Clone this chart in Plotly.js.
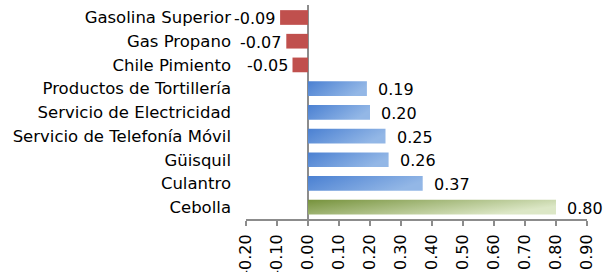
<!DOCTYPE html>
<html>
<head>
<meta charset="utf-8">
<script src="https://cdn.plot.ly/plotly-3.0.1.min.js"></script>
<style>
  html, body { margin: 0; padding: 0; background: #fff; }
  #chart { width: 607px; height: 272px; }
</style>
</head>
<body>
<div id="chart"></div>
<script>
// ---- data (top to bottom) ----
const categories = [
  "Gasolina Superior",
  "Gas Propano",
  "Chile Pimiento",
  "Productos de Tortillería",
  "Servicio de Electricidad",
  "Servicio de Telefonía Móvil",
  "Güisquil",
  "Culantro",
  "Cebolla"
];
const values = [-0.09, -0.07, -0.05, 0.19, 0.20, 0.25, 0.26, 0.37, 0.80];
const tickValues = [-0.2, -0.1, 0, 0.1, 0.2, 0.3, 0.4, 0.5, 0.6, 0.7, 0.8, 0.9];
const tickLabels = tickValues.map(v => v.toFixed(2));

// ---- styling ----
const FONT = "DejaVu Sans, Verdana, sans-serif";
const RED = "#C0504D", BLUE = "#6F9BD8", GREEN = "#A3B978";
const maxVal = Math.max(...values);
const kind = values.map(v => v < 0 ? "red" : (v === maxVal ? "green" : "blue"));
const colors = kind.map(k => k === "red" ? RED : (k === "green" ? GREEN : BLUE));

const trace = {
  type: "bar",
  orientation: "h",
  x: values,
  y: categories,
  marker: { color: colors, line: { width: 0 } },
  hoverinfo: "skip"
};

const annotations = values.map((v, i) => ({
  x: v,
  y: categories[i],
  xref: "x",
  yref: "y",
  text: v.toFixed(2),
  showarrow: false,
  xanchor: v < 0 ? "right" : "left",
  xshift: v < 0 ? -3 : 9,
  yshift: -1,
  font: { family: FONT, size: 16, color: "#000" }
}));

const layout = {
  width: 607,
  height: 272,
  margin: { l: 246, r: 20, t: 5, b: 53, pad: 0 },
  paper_bgcolor: "#fff",
  plot_bgcolor: "#fff",
  showlegend: false,
  bargap: 0.38,
  font: { family: FONT, size: 16, color: "#000" },
  xaxis: {
    range: [-0.2, 0.9],
    tickmode: "array",
    tickvals: tickValues,
    ticktext: tickLabels,
    tickangle: -90,
    ticks: "outside",
    ticklen: 5,
    tickwidth: 2,
    tickcolor: "#8C8C8C",
    ticklabelstandoff: 2,
    showline: true,
    linecolor: "#8C8C8C",
    linewidth: 2,
    showgrid: false,
    zeroline: true,
    zerolinecolor: "#8C8C8C",
    zerolinewidth: 2,
    automargin: false,
    fixedrange: true,
    tickfont: { family: FONT, size: 16, color: "#000" }
  },
  yaxis: {
    type: "category",
    autorange: "reversed",
    showline: false,
    showgrid: false,
    zeroline: false,
    ticks: "",
    ticklabelstandoff: 14,
    automargin: false,
    fixedrange: true,
    tickfont: { family: FONT, size: 16.5, color: "#000" }
  },
  annotations: annotations
};

Plotly.newPlot("chart", [trace], layout, { staticPlot: true, displayModeBar: false }).then(gd => {
  // Gradient fills similar to the original spreadsheet chart
  const svg = gd.querySelector("svg.main-svg");
  const NS = "http://www.w3.org/2000/svg";
  let defs = svg.querySelector("defs");
  if (!defs) { defs = document.createElementNS(NS, "defs"); svg.insertBefore(defs, svg.firstChild); }
  function addGrad(id, stops, x2, y2) {
    const g = document.createElementNS(NS, "linearGradient");
    g.setAttribute("id", id);
    g.setAttribute("x1", "0"); g.setAttribute("y1", "0");
    g.setAttribute("x2", x2); g.setAttribute("y2", y2);
    stops.forEach(([off, col]) => {
      const s = document.createElementNS(NS, "stop");
      s.setAttribute("offset", off);
      s.setAttribute("stop-color", col);
      g.appendChild(s);
    });
    defs.appendChild(g);
  }
  addGrad("gBlue", [["0", "#4A80D2"], ["1", "#93B7E6"]], "1", "0.35");
  addGrad("gGreen", [["0", "#76923C"], ["1", "#DCE7C6"]], "1", "0.45");
  const paths = gd.querySelectorAll(".barlayer .trace .point path");
  paths.forEach((p, i) => {
    if (kind[i] === "blue") p.style.fill = "url(#gBlue)";
    else if (kind[i] === "green") p.style.fill = "url(#gGreen)";
  });
});
</script>
</body>
</html>
